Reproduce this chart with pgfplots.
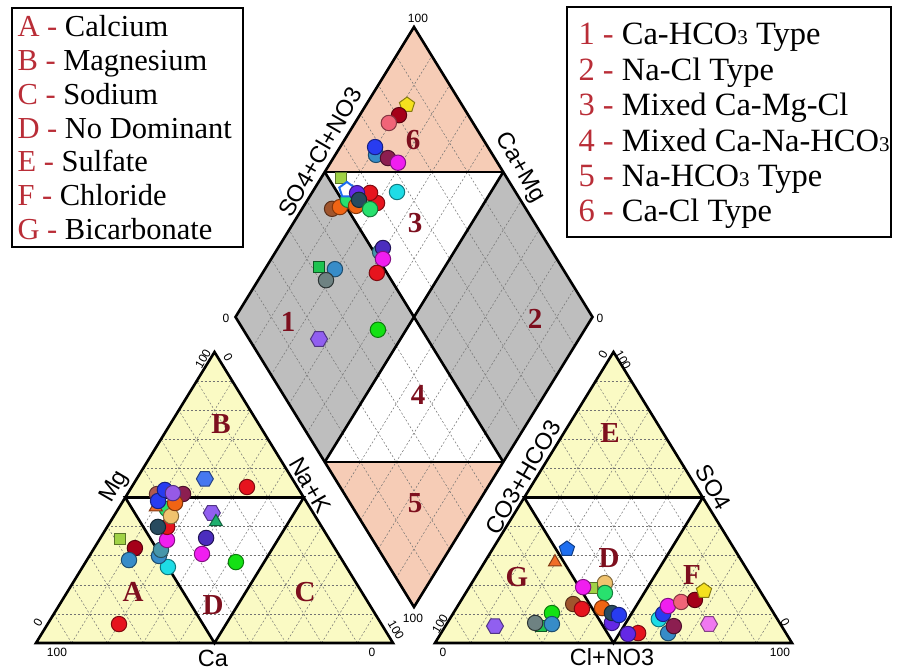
\documentclass[border=0pt]{standalone}
\usepackage{pgfplots}
\pgfplotsset{compat=1.18}
\usepackage{pgfplotstable}
\usepackage{fontspec}
\setmainfont{Liberation Serif}
\newfontfamily\sansfont{Liberation Sans}
\usetikzlibrary{plotmarks}

% field colours
\definecolor{triyellow}{RGB}{250,250,196}
\definecolor{fieldgray}{RGB}{190,190,190}
\definecolor{salmon}{RGB}{246,204,182}
\definecolor{fieldred}{RGB}{125,15,30}
\definecolor{keyred}{RGB}{185,45,55}

% sample colours
\definecolor{mRed}{RGB}{230,20,30}
\definecolor{mDarkRed}{RGB}{165,0,25}
\definecolor{mMaroon}{RGB}{140,30,80}
\definecolor{mPink}{RGB}{240,100,120}
\definecolor{mMagenta}{RGB}{240,30,240}
\definecolor{mBlue}{RGB}{40,60,240}
\definecolor{mBlueViolet}{RGB}{100,40,230}
\definecolor{mSlateBlue}{RGB}{75,45,190}
\definecolor{mPurple}{RGB}{150,90,230}
\definecolor{mSteel}{RGB}{55,140,200}
\definecolor{mCadet}{RGB}{70,150,170}
\definecolor{mCyan}{RGB}{30,220,230}
\definecolor{mGreen}{RGB}{20,225,20}
\definecolor{mSpring}{RGB}{40,225,110}
\definecolor{mDSlate}{RGB}{40,75,95}
\definecolor{mGray}{RGB}{110,130,130}
\definecolor{mOrange}{RGB}{240,100,20}
\definecolor{mLOrange}{RGB}{240,195,110}
\definecolor{mSienna}{RGB}{160,85,45}
\definecolor{mRosy}{RGB}{175,90,80}
\definecolor{mGold}{RGB}{245,225,30}
\definecolor{mBluePent}{RGB}{30,110,240}
\definecolor{mOrangeTri}{RGB}{240,110,40}
\definecolor{mGreenTri}{RGB}{30,175,110}
\definecolor{mYG}{RGB}{160,210,70}
\definecolor{mGreenSq}{RGB}{30,195,80}
\definecolor{mHexBlue}{RGB}{70,120,240}
\definecolor{mHexPurple}{RGB}{145,95,240}
\definecolor{mHexViolet}{RGB}{240,120,240}

\pgfdeclareplotmark{hexagon*}{%
  \pgfpathmoveto{\pgfpointpolar{0}{\pgfplotmarksize}}%
  \pgfpathlineto{\pgfpointpolar{60}{\pgfplotmarksize}}%
  \pgfpathlineto{\pgfpointpolar{120}{\pgfplotmarksize}}%
  \pgfpathlineto{\pgfpointpolar{180}{\pgfplotmarksize}}%
  \pgfpathlineto{\pgfpointpolar{240}{\pgfplotmarksize}}%
  \pgfpathlineto{\pgfpointpolar{300}{\pgfplotmarksize}}%
  \pgfpathclose
  \pgfusepathqfillstroke
}

% cation percentages (meq %)
\pgfplotstableread{
cls Ca Mg NaK
sRed 73.5 6.5 20.0
sHexBlue 24.5 56.4 19.1
sRed 14.1 53.6 32.3
sCyan 50.0 26.1 23.9
sSteel 50.6 29.9 19.5
sCadet 49.0 32.0 19.0
sMagenta 45.6 35.4 19.0
sRed 43.3 39.9 16.8
sDSlate 45.9 39.9 14.2
sSpring 40.3 46.0 13.7
sLOrange 40.4 43.6 16.0
sRosy 40.5 51.2 8.3
sMaroon 33.2 51.2 15.6
sOrangeTri 43.1 46.7 10.2
sBlue 41.4 48.8 9.8
sOrange 37.0 48.1 14.9
sBlue 37.6 52.6 9.8
sPurple 35.9 51.5 12.6
sYG 58.6 35.7 5.7
sDarkRed 56.0 32.6 11.4
sSteel 59.7 28.5 11.8
sHexPurple 28.4 44.7 26.9
sGreenTri 28.8 41.6 29.6
sSlateBlue 34.3 36.1 29.6
sMagenta 38.2 30.6 31.2
sGreen 30.1 27.8 42.1
}\cationdata

% anion percentages (meq %)
\pgfplotstableread{
cls HCO3 SO4 Cl
sBluePent 46.9 32.3 20.8
sOrangeTri 52.5 27.8 19.7
sLOrange 42.1 20.6 37.3
sSpring 43.8 17.2 39.0
sYG 46.6 18.9 34.5
sMagenta 48.9 19.2 31.9
sSienna 54.6 13.4 32.0
sRed 53.0 11.7 35.3
sOrange 47.2 12.0 40.8
sBlueViolet 47.0 6.9 46.1
sDSlate 45.3 10.3 44.4
sBlue 43.7 9.6 46.7
sGreen 62.1 10.3 27.6
sGreenSq 67.4 5.8 26.8
sGray 68.5 6.9 24.6
sSteel 64.0 6.5 29.5
sHexPurple 80.3 5.8 13.9
sRed 41.4 3.4 55.2
sBlueViolet 44.4 3.1 52.5
sCyan 33.2 8.2 58.6
sBlue 31.1 10.0 58.9
sMagenta 28.4 12.7 58.9
sPink 24.0 14.1 61.9
sDarkRed 19.8 14.8 65.4
sGoldPent 15.7 17.9 66.4
sSteel 33.0 3.4 63.6
sMaroon 30.2 5.8 64.0
sHexViolet 20.0 6.5 73.5
}\aniondata

% diamond: Ca+Mg and SO4+Cl+NO3 (meq %)
\pgfplotstableread{
cls CaMg SClN
sGoldPent 88.5 84.6
sDarkRed 89.0 80.6
sPink 90.5 76.4
sSteel 88.6 67.3
sBlue 90.2 68.4
sMaroon 84.7 70.1
sMagenta 81.1 72.1
sYG 94.4 53.5
sSienna 91.6 45.7
sOrange 89.7 48.2
sSpring 88.7 51.7
sWhitePent 90.7 53.1
sRed 80.0 59.3
sRed 83.7 59.1
sOrange 85.4 52.9
sBlueViolet 87.3 55.4
sDSlate 85.6 54.8
sSpring 80.9 56.3
sCyan 76.3 66.8
sCadet 70.7 51.7
sSlateBlue 70.6 53.2
sMagenta 68.7 51.3
sRed 68.0 47.2
sGreenSq 85.2 32.0
sSteel 80.4 36.1
sGray 81.0 31.7
sGreen 57.9 37.7
sHexPurple 72.8 19.6
}\diamonddata

\tikzset{
  fieldlbl/.style={font=\fontsize{29}{29}\selectfont\bfseries, text=fieldred},
  ticklbl/.style={font=\sansfont\fontsize{12}{12}\selectfont},
  axlbl/.style={font=\sansfont\fontsize{23.5}{23.5}\selectfont},
  keytext/.style={anchor=base west, font=\fontsize{30.5}{30.5}\selectfont},
  keytextR/.style={anchor=base west, font=\fontsize{32.5}{32.5}\selectfont},
}

\pgfplotsset{
  gridln/.style={mark=none, draw=black!55, line width=0.5pt, dash pattern=on 2pt off 2pt},
  thickln/.style={mark=none, draw=black, line width=2.6pt},
  sampledata/.style={only marks, scatter, scatter src=explicit symbolic,
    scatter/classes={
      sRed={mark=*,mark size=7.7pt,fill=mRed,draw=mRed!55!black,line width=1pt},
      sDarkRed={mark=*,mark size=7.7pt,fill=mDarkRed,draw=mDarkRed!55!black,line width=1pt},
      sMaroon={mark=*,mark size=7.7pt,fill=mMaroon,draw=mMaroon!55!black,line width=1pt},
      sPink={mark=*,mark size=7.7pt,fill=mPink,draw=mPink!55!black,line width=1pt},
      sMagenta={mark=*,mark size=7.7pt,fill=mMagenta,draw=mMagenta!55!black,line width=1pt},
      sBlue={mark=*,mark size=7.7pt,fill=mBlue,draw=mBlue!55!black,line width=1pt},
      sBlueViolet={mark=*,mark size=7.7pt,fill=mBlueViolet,draw=mBlueViolet!55!black,line width=1pt},
      sSlateBlue={mark=*,mark size=7.7pt,fill=mSlateBlue,draw=mSlateBlue!45!black,line width=1pt},
      sPurple={mark=*,mark size=7.7pt,fill=mPurple,draw=mPurple!55!black,line width=1pt},
      sSteel={mark=*,mark size=7.7pt,fill=mSteel,draw=mSteel!55!black,line width=1pt},
      sCadet={mark=*,mark size=7.7pt,fill=mCadet,draw=mCadet!55!black,line width=1pt},
      sCyan={mark=*,mark size=7.7pt,fill=mCyan,draw=mCyan!55!black,line width=1pt},
      sGreen={mark=*,mark size=7.7pt,fill=mGreen,draw=mGreen!55!black,line width=1pt},
      sSpring={mark=*,mark size=7.7pt,fill=mSpring,draw=mSpring!55!black,line width=1pt},
      sDSlate={mark=*,mark size=7.7pt,fill=mDSlate,draw=mDSlate!55!black,line width=1pt},
      sGray={mark=*,mark size=7.7pt,fill=mGray,draw=mGray!40!black,line width=1pt},
      sOrange={mark=*,mark size=7.7pt,fill=mOrange,draw=mOrange!55!black,line width=1pt},
      sLOrange={mark=*,mark size=7.7pt,fill=mLOrange,draw=mLOrange!55!black,line width=1pt},
      sSienna={mark=*,mark size=7.7pt,fill=mSienna,draw=mSienna!55!black,line width=1pt},
      sRosy={mark=*,mark size=7.7pt,fill=mRosy,draw=mRosy!55!black,line width=1pt},
      sGoldPent={mark=pentagon*,mark size=8pt,fill=mGold,draw=mGold!55!black,line width=1pt},
      sBluePent={mark=pentagon*,mark size=8pt,fill=mBluePent,draw=mBluePent!55!black,line width=1pt},
      sWhitePent={mark=pentagon*,mark size=8pt,fill=white,draw=mBluePent,line width=2pt},
      sOrangeTri={mark=triangle*,mark size=7.5pt,fill=mOrangeTri,draw=mOrangeTri!55!black,line width=1pt},
      sGreenTri={mark=triangle*,mark size=7.5pt,fill=mGreenTri,draw=mGreenTri!55!black,line width=1pt},
      sYG={mark=square*,mark size=5.5pt,fill=mYG,draw=mYG!55!black,line width=1pt},
      sGreenSq={mark=square*,mark size=5.5pt,fill=mGreenSq,draw=mGreenSq!45!black,line width=1pt},
      sHexBlue={mark=hexagon*,mark size=8.5pt,fill=mHexBlue,draw=mHexBlue!55!black,line width=1pt},
      sHexPurple={mark=hexagon*,mark size=8.5pt,fill=mHexPurple,draw=mHexPurple!55!black,line width=1pt},
      sHexViolet={mark=hexagon*,mark size=8.5pt,fill=mHexViolet,draw=mHexViolet!55!black,line width=1pt}
    }},
}

\begin{document}
\begin{tikzpicture}
\useasboundingbox (0,0) rectangle (900pt,670pt);
\begin{axis}[x=1pt, y=1pt, xmin=0, xmax=900, ymin=0, ymax=670,
  at={(0,0)}, anchor=south west, hide axis, clip=false]

% ---- field fills ----
\addplot[fill=triyellow, draw=none] coordinates {(36,27) (393,27) (214.5,318)} --cycle;
\addplot[fill=white, draw=none] coordinates {(125.25,172.5) (303.75,172.5) (214.5,27)} --cycle;
\addplot[fill=triyellow, draw=none] coordinates {(435,27) (792,27) (613.5,318)} --cycle;
\addplot[fill=white, draw=none] coordinates {(524.25,172.5) (702.75,172.5) (613.5,27)} --cycle;
\addplot[fill=white, draw=none] coordinates {(414,63) (592.5,353) (414,643) (235.5,353)} --cycle;
\addplot[fill=salmon, draw=none] coordinates {(414,643) (324.75,498) (503.25,498)} --cycle;
\addplot[fill=salmon, draw=none] coordinates {(324.75,208) (503.25,208) (414,63)} --cycle;
\addplot[fill=fieldgray, draw=none] coordinates {(235.5,353) (324.75,498) (414,353) (324.75,208)} --cycle;
\addplot[fill=fieldgray, draw=none] coordinates {(592.5,353) (503.25,498) (414,353) (503.25,208)} --cycle;

% ---- 10 % grid ----
\pgfplotsinvokeforeach{1,...,9}{
  % cation triangle
  \addplot[gridln, domain=0:1, samples=2] ({36+17.85*#1+(357-35.7*#1)*x},{27+29.1*#1});
  \addplot[gridln, domain=0:1, samples=2] ({36+35.7*#1+(178.5-17.85*#1)*x},{27+(291-29.1*#1)*x});
  \addplot[gridln, domain=0:1, samples=2] ({36+35.7*#1-17.85*#1*x},{27+29.1*#1*x});
  % anion triangle
  \addplot[gridln, domain=0:1, samples=2] ({435+17.85*#1+(357-35.7*#1)*x},{27+29.1*#1});
  \addplot[gridln, domain=0:1, samples=2] ({435+35.7*#1+(178.5-17.85*#1)*x},{27+(291-29.1*#1)*x});
  \addplot[gridln, domain=0:1, samples=2] ({435+35.7*#1-17.85*#1*x},{27+29.1*#1*x});
  % diamond
  \addplot[gridln, domain=0:1, samples=2] ({414+17.85*#1-178.5*x},{63+29*#1+290*x});
  \addplot[gridln, domain=0:1, samples=2] ({414-17.85*#1+178.5*x},{63+29*#1+290*x});
}

% ---- field boundaries ----
\addplot[thickln] coordinates {(36,27) (393,27) (214.5,318)} --cycle;
\addplot[thickln] coordinates {(125.25,172.5) (303.75,172.5) (214.5,27)} --cycle;
\addplot[thickln] coordinates {(435,27) (792,27) (613.5,318)} --cycle;
\addplot[thickln] coordinates {(524.25,172.5) (702.75,172.5) (613.5,27)} --cycle;
\addplot[thickln] coordinates {(414,63) (592.5,353) (414,643) (235.5,353)} --cycle;
\addplot[thickln] coordinates {(324.75,498) (503.25,498)};
\addplot[thickln] coordinates {(324.75,208) (503.25,208)};
\addplot[thickln] coordinates {(324.75,498) (503.25,208)};
\addplot[thickln] coordinates {(503.25,498) (324.75,208)};

% ---- field names ----
\node[fieldlbl] at (axis cs:133,78) {A};
\node[fieldlbl] at (axis cs:221,246) {B};
\node[fieldlbl] at (axis cs:305,78) {C};
\node[fieldlbl] at (axis cs:213,65) {D};
\node[fieldlbl] at (axis cs:610,237) {E};
\node[fieldlbl] at (axis cs:692,95) {F};
\node[fieldlbl] at (axis cs:517,93) {G};
\node[fieldlbl] at (axis cs:609,112) {D};
\node[fieldlbl] at (axis cs:288,348) {1};
\node[fieldlbl] at (axis cs:535,351) {2};
\node[fieldlbl] at (axis cs:415,447) {3};
\node[fieldlbl] at (axis cs:418,275) {4};
\node[fieldlbl] at (axis cs:415,167) {5};
\node[fieldlbl] at (axis cs:413,530) {6};

% ---- axis names ----
\node[axlbl, rotate=60] at (axis cs:115,183) {Mg};
\node[axlbl, rotate=-60] at (axis cs:310,185) {Na+K};
\node[axlbl] at (axis cs:213,12) {Ca};
\node[axlbl, rotate=60] at (axis cs:523,193) {CO3+HCO3};
\node[axlbl, rotate=-60] at (axis cs:713,183) {SO4};
\node[axlbl] at (axis cs:612,13) {Cl+NO3};
\node[axlbl, rotate=60] at (axis cs:320,518) {SO4+Cl+NO3};
\node[axlbl, rotate=-60] at (axis cs:520,502) {Ca+Mg};

% ---- scale ends ----
\node[ticklbl] at (axis cs:57,18) {100};
\node[ticklbl] at (axis cs:372,18) {0};
\node[ticklbl, rotate=60] at (axis cs:38,47) {0};
\node[ticklbl, rotate=60] at (axis cs:203,311) {100};
\node[ticklbl, rotate=-60] at (axis cs:228,313) {0};
\node[ticklbl, rotate=-60] at (axis cs:396,40) {100};
\node[ticklbl] at (axis cs:443,18) {0};
\node[ticklbl] at (axis cs:780,18) {100};
\node[ticklbl, rotate=60] at (axis cs:440,46) {100};
\node[ticklbl, rotate=60] at (axis cs:603,315) {0};
\node[ticklbl, rotate=-60] at (axis cs:623,310) {100};
\node[ticklbl, rotate=-60] at (axis cs:785,48) {0};
\node[ticklbl] at (axis cs:418,652) {100};
\node[ticklbl] at (axis cs:226,352) {0};
\node[ticklbl] at (axis cs:600,352) {0};
\node[ticklbl] at (axis cs:413,52) {100};

% ---- keys ----
\addplot[mark=none, draw=black, line width=1.8pt] coordinates {(12,662) (243,662) (243,423) (12,423)} --cycle;
\node[keytext] at (axis cs:14,633) {\textcolor{keyred}{A -} Calcium};
\node[keytext] at (axis cs:14,599.3) {\textcolor{keyred}{B -} Magnesium};
\node[keytext] at (axis cs:14,565.6) {\textcolor{keyred}{C -} Sodium};
\node[keytext] at (axis cs:14,531.9) {\textcolor{keyred}{D -} No Dominant};
\node[keytext] at (axis cs:14,498.2) {\textcolor{keyred}{E -} Sulfate};
\node[keytext] at (axis cs:14,464.5) {\textcolor{keyred}{F -} Chloride};
\node[keytext] at (axis cs:14,430.8) {\textcolor{keyred}{G -} Bicarbonate};

\addplot[mark=none, draw=black, line width=1.8pt] coordinates {(567,663) (891,663) (891,433) (567,433)} --cycle;
\node[keytextR] at (axis cs:575,625) {\textcolor{keyred}{1 -} Ca-HCO{\fontsize{21}{21}\selectfont 3} Type};
\node[keytextR] at (axis cs:575,589.6) {\textcolor{keyred}{2 -} Na-Cl Type};
\node[keytextR] at (axis cs:575,554.2) {\textcolor{keyred}{3 -} Mixed Ca-Mg-Cl};
\node[keytextR] at (axis cs:575,518.8) {\textcolor{keyred}{4 -} Mixed Ca-Na-HCO{\fontsize{21}{21}\selectfont 3}};
\node[keytextR] at (axis cs:575,483.4) {\textcolor{keyred}{5 -} Na-HCO{\fontsize{21}{21}\selectfont 3} Type};
\node[keytextR] at (axis cs:575,448) {\textcolor{keyred}{6 -} Ca-Cl Type};

% ---- samples ----
\addplot[sampledata] table[x expr={36+3.57*(\thisrow{NaK}+0.5*\thisrow{Mg})}, y expr={27+2.91*\thisrow{Mg}}, meta=cls] {\cationdata};
\addplot[sampledata] table[x expr={435+3.57*(\thisrow{Cl}+0.5*\thisrow{SO4})}, y expr={27+2.91*\thisrow{SO4}}, meta=cls] {\aniondata};
\addplot[sampledata] table[x expr={414+1.785*(\thisrow{SClN}-\thisrow{CaMg})}, y expr={63+2.9*(\thisrow{CaMg}+\thisrow{SClN})}, meta=cls] {\diamonddata};

\end{axis}
\end{tikzpicture}
\end{document}
